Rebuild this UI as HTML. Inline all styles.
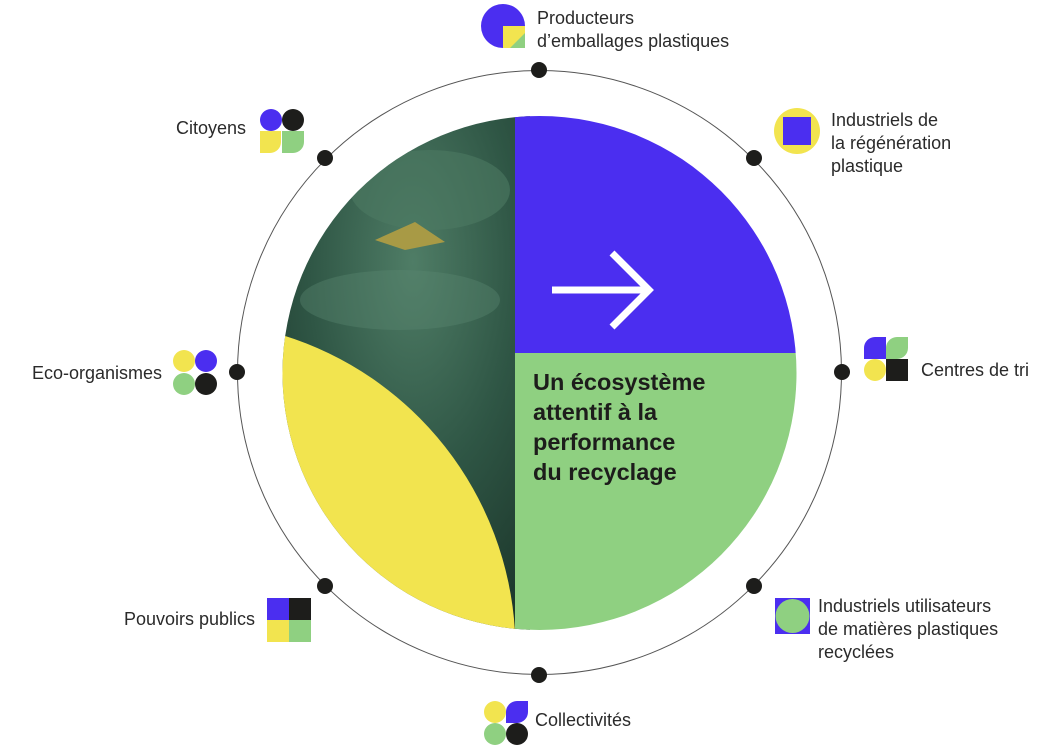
<!DOCTYPE html>
<html><head><meta charset="utf-8"><style>
html,body{margin:0;padding:0;background:#fff;}
svg{display:block;}
text{font-family:"Liberation Sans",sans-serif;fill:#2a2a2a;font-size:18px;}
.b{font-weight:bold;font-size:23.5px;fill:#1d1d1b;}
</style></head><body>
<svg width="1049" height="749" viewBox="0 0 1049 749">
<defs>
<clipPath id="c"><circle cx="539.5" cy="373" r="257"/></clipPath>
<radialGradient id="g1" cx="0.55" cy="0.3" r="0.8">
<stop offset="0" stop-color="#4f7d66"/><stop offset="0.5" stop-color="#2f5645"/><stop offset="1" stop-color="#1a3328"/>
</radialGradient>
</defs>
<circle cx="539.5" cy="372.5" r="302" fill="none" stroke="#555" stroke-width="1"/>
<g clip-path="url(#c)">
<rect x="270" y="100" width="260" height="540" fill="url(#g1)"/>
<ellipse cx="430" cy="190" rx="80" ry="40" fill="#4d7a63" opacity="0.6"/>
<ellipse cx="400" cy="300" rx="100" ry="30" fill="#5b8670" opacity="0.4"/>
<path d="M375,240 L415,222 L445,242 L405,250 Z" fill="#a89a45"/>
<rect x="515" y="100" width="300" height="253" fill="#4b2ef0"/>
<rect x="515" y="353" width="300" height="300" fill="#8fd081"/>
<path d="M282,335 A330 330 0 0 1 515,632 L200,640 L200,335 Z" fill="#f2e44f"/>
</g>
<path d="M552,290 H648 M612,253 L649,290 L612,327" fill="none" stroke="#fff" stroke-width="7"/>
<text class="b" x="533" y="390">Un écosystème</text>
<text class="b" x="533" y="420">attentif à la</text>
<text class="b" x="533" y="450">performance</text>
<text class="b" x="533" y="480">du recyclage</text>
<g fill="#1d1d1b">
<circle cx="539" cy="70" r="8"/><circle cx="754" cy="158" r="8"/><circle cx="842" cy="372" r="8"/><circle cx="754" cy="586" r="8"/>
<circle cx="539" cy="675" r="8"/><circle cx="325" cy="586" r="8"/><circle cx="237" cy="372" r="8"/><circle cx="325" cy="158" r="8"/>
</g>
<circle cx="503" cy="26" r="22" fill="#4b2ef0"/>
<rect x="503" y="26" width="22" height="22" fill="#f2e44f"/>
<path d="M525,33 V48 H510 Z" fill="#8fd081"/>
<text x="537" y="24">Producteurs</text>
<text x="537" y="47">d’emballages plastiques</text>
<circle cx="797" cy="131" r="23" fill="#f2e44f"/>
<rect x="783" y="117" width="28" height="28" fill="#4b2ef0"/>
<text x="831" y="126">Industriels de</text>
<text x="831" y="149">la régénération</text>
<text x="831" y="172">plastique</text>
<circle cx="271" cy="120" r="11" fill="#4b2ef0"/>
<circle cx="293" cy="120" r="11" fill="#1d1d1b"/>
<path d="M260,131 H281 V142 A11 11 0 0 1 270,153 H260 Z" fill="#f2e44f"/>
<path d="M282,131 H304 V142 A11 11 0 0 1 293,153 H282 Z" fill="#8fd081"/>
<text x="246" y="134" text-anchor="end">Citoyens</text>
<circle cx="184" cy="361" r="11" fill="#f2e44f"/><circle cx="206" cy="361" r="11" fill="#4b2ef0"/>
<circle cx="184" cy="384" r="11" fill="#8fd081"/><circle cx="206" cy="384" r="11" fill="#1d1d1b"/>
<text x="162" y="379" text-anchor="end">Eco-organismes</text>
<path d="M875,337 H886 V359 H864 V348 A11 11 0 0 1 875,337 Z" fill="#4b2ef0"/>
<path d="M897,337 H908 V348 A11 11 0 0 1 897,359 H886 V348 A11 11 0 0 1 897,337 Z" fill="#8fd081"/>
<circle cx="875" cy="370" r="11" fill="#f2e44f"/>
<rect x="886" y="359" width="22" height="22" fill="#1d1d1b"/>
<text x="921" y="376">Centres de tri</text>
<rect x="267" y="598" width="22" height="22" fill="#4b2ef0"/><rect x="289" y="598" width="22" height="22" fill="#1d1d1b"/>
<rect x="267" y="620" width="22" height="22" fill="#f2e44f"/><rect x="289" y="620" width="22" height="22" fill="#8fd081"/>
<text x="255" y="625" text-anchor="end">Pouvoirs publics</text>
<rect x="775" y="598" width="35" height="36" fill="#4b2ef0"/>
<circle cx="792.5" cy="616" r="17" fill="#8fd081"/>
<text x="818" y="612">Industriels utilisateurs</text>
<text x="818" y="635">de matières plastiques</text>
<text x="818" y="658">recyclées</text>
<circle cx="495" cy="712" r="11" fill="#f2e44f"/>
<path d="M517,701 H528 V712 A11 11 0 0 1 517,723 H506 V712 A11 11 0 0 1 517,701 Z" fill="#4b2ef0"/>
<circle cx="495" cy="734" r="11" fill="#8fd081"/><circle cx="517" cy="734" r="11" fill="#1d1d1b"/>
<text x="535" y="726">Collectivités</text>
</svg>
</body></html>
